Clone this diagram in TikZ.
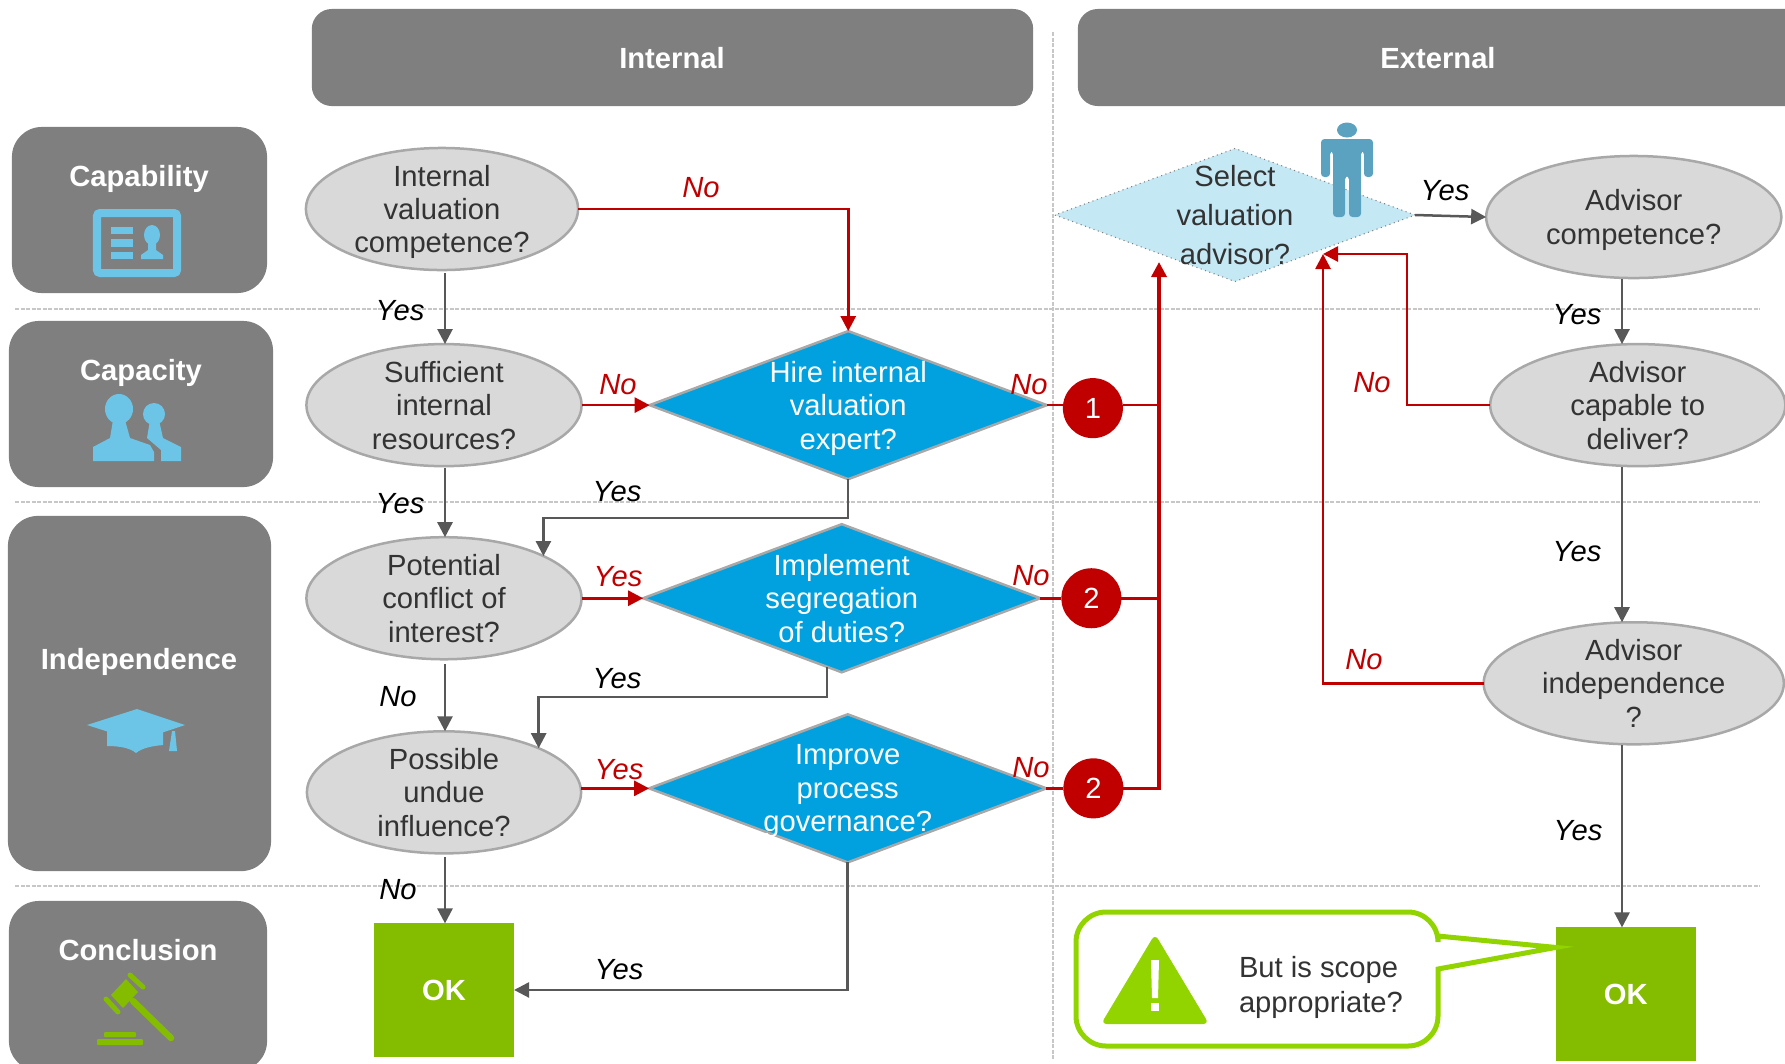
\documentclass[tikz,border=0pt]{standalone}
\usepackage{fontspec}
\setmainfont{Liberation Sans}
\usetikzlibrary{positioning,shapes.geometric,arrows.meta}

\definecolor{headgray}{HTML}{7F7F7F}
\definecolor{ellfill}{HTML}{D9D9D9}
\definecolor{ellline}{HTML}{A8A8A8}
\definecolor{dmdblue}{HTML}{00A1DE}
\definecolor{dmdpale}{HTML}{C5E8F5}
\definecolor{iconblue}{HTML}{6CC4E6}
\definecolor{manblue}{HTML}{5AA2BF}
\definecolor{redline}{HTML}{C00000}
\definecolor{grayline}{HTML}{585858}
\definecolor{okgreen}{HTML}{84BC00}
\definecolor{warngreen}{HTML}{92D400}
\definecolor{inktext}{HTML}{333333}

\tikzset{
	every node/.style={outer sep=0pt},
	bodyfont/.style={font=\fontsize{8.3}{9.5}\selectfont},
	headbox/.style={rectangle, rounded corners=0.2cm, fill=headgray, inner sep=0pt},
	sidebox/.style={rectangle, rounded corners=0.3cm, fill=headgray, inner sep=0pt},
	headtext/.style={font=\fontsize{8.3}{9.5}\selectfont\bfseries, text=white, text height=0.25cm, text depth=0.044cm},
	ellq/.style={ellipse, bodyfont, align=center, text=inktext, text depth=0pt, fill=ellfill, draw=ellline, line width=0.025cm, minimum width=2.72cm, minimum height=1.22cm, inner xsep=-0.2cm, inner ysep=-0.3cm},
	dmdq/.style={diamond, bodyfont, align=center, text=white, text depth=0pt, fill=dmdblue, draw=ellline, line width=0.025cm, minimum width=3.97cm, minimum height=1.48cm, aspect=2.68, inner xsep=-0.5cm, inner ysep=-0.4cm},
	selq/.style={diamond, font=\fontsize{8.3}{11}\selectfont, align=center, text=inktext, text depth=0pt, fill=dmdpale, draw=gray, line width=0.3pt, densely dotted, minimum width=3.6cm, minimum height=1.33cm, aspect=2.7, inner xsep=-0.5cm, inner ysep=-0.5cm},
	okbox/.style={rectangle, headtext, fill=okgreen, minimum width=1.4cm, minimum height=1.33cm, inner sep=0pt},
	numdot/.style={circle, bodyfont, text=white, fill=redline, minimum size=0.6cm, inner sep=0pt},
	grayarr/.style={draw=grayline, line width=0.025cm, -{Triangle[length=0.15cm,width=0.15cm]}},
	redarr/.style={draw=redline, line width=0.027cm, -{Triangle[length=0.15cm,width=0.15cm]}},
	redrun/.style={draw=redline, line width=0.027cm},
	ansblack/.style={bodyfont, font=\fontsize{8.3}{9.5}\selectfont\itshape, text=black, inner sep=0pt},
	ansred/.style={ansblack, text=redline},
	rowline/.style={draw=black!22, line width=0.014cm, dash pattern=on 0.04cm off 0.015cm}
}

\begin{document}
\begin{tikzpicture}[x=0.01cm, y=-0.01cm]

	\path[use as bounding box, clip] (0,0) rectangle (1785,1063);

	\coordinate (rowa) at (15,309);
	\coordinate (rowb) at (15,502);
	\coordinate (rowc) at (15,886);
	\coordinate (rowend) at (1760,0);
	\coordinate (midtop) at (1053,32);
	\coordinate (midend) at (1053,1060);

	\draw[rowline] (rowa) -- (rowa -| rowend);
	\draw[rowline] (rowb) -- (rowb -| rowend);
	\draw[rowline] (rowc) -- (rowc -| rowend);
	\draw[rowline] (midtop) -- (midend);

	\node[headbox, minimum width=7.21cm, minimum height=0.97cm] (inthead) at (672.5,57.5) {};
	\node[headbox, minimum width=7.3cm, minimum height=0.97cm] (exthead) at (1443,57.5) {};
	\node[headtext] (inttext) at (672,58) {Internal};
	\node[headtext] (exttext) at (1438,58) {External};

	\node[sidebox, minimum width=2.55cm, minimum height=1.66cm] (capabox) at (139.5,210) {};
	\node[sidebox, minimum width=2.64cm, minimum height=1.66cm] (cacibox) at (141,404) {};
	\node[sidebox, minimum width=2.63cm, minimum height=3.55cm] (indebox) at (139.5,693.5) {};
	\node[sidebox, minimum width=2.58cm, minimum height=1.7cm] (concbox) at (138,986) {};
	\node[headtext] (capatext) at (139,176) {Capability};
	\node[headtext] (cacitext) at (141,370) {Capacity};
	\node[headtext] (indetext) at (139,659) {Independence};
	\node[headtext] (conctext) at (138,950) {Conclusion};

	\node[ellq] (compq) at (442,209) {Internal\\valuation\\competence?};
	\node[ellq, below=0.74cm of compq, xshift=0.02cm, minimum width=2.75cm] (resq) {Sufficient\\internal\\resources?};
	\node[ellq, below=0.71cm of resq, minimum width=2.75cm] (confq) {Potential\\conflict of\\interest?};
	\node[ellq, below=0.72cm of confq, minimum width=2.74cm] (undueq) {Possible\\undue\\influence?};
	\node[okbox, below=0.7cm of undueq] (okint) {OK};

	\node[dmdq, right=0.68cm of resq] (hireq) {Hire internal\\valuation\\expert?};
	\node[dmdq, right=0.615cm of confq] (segq) {Implement\\segregation\\of duties?};
	\node[dmdq, right=0.68cm of undueq, yshift=0.04cm] (govq) {Improve\\process\\governance?};

	\node[numdot, right=0.16cm of hireq, yshift=-0.03cm] (numa) {1};
	\node[numdot, right=0.21cm of segq] (numb) {2};
	\node[numdot, right=0.17cm of govq] (numc) {2};

	\node[selq] (selq) at (1235,215) {Select\\valuation\\advisor?};
	\node[ellq, right=0.71cm of selq, yshift=-0.02cm, minimum width=2.95cm] (advcomp) {Advisor\\competence?};
	\node[ellq, below=0.66cm of advcomp, xshift=0.04cm, minimum width=2.95cm] (advdel) {Advisor\\capable to\\deliver?};
	\node[ellq, below=1.56cm of advdel, xshift=-0.04cm, minimum width=3cm] (advind) {Advisor\\independence\\?};
	\node[okbox, below=1.83cm of advind, xshift=-0.08cm] (okext) {OK};

	\coordinate (axl) at (445,0);
	\coordinate (axr) at (1622,0);
	\coordinate (bus) at (1159,262);
	\coordinate (tipr) at (1323,254);

	\draw[grayarr, shorten <=0.03cm] (axl |- compq.south) -- (axl |- resq.north);
	\draw[grayarr, shorten <=0.02cm] (axl |- resq.south) -- (axl |- confq.north);
	\draw[grayarr, shorten <=0.05cm] (axl |- confq.south) -- (axl |- undueq.north);
	\draw[grayarr, shorten <=0.04cm] (axl |- undueq.south) -- (axl |- okint.north);
	\draw[grayarr] (hireq.south) |- ([yshift=0.38cm]confq.23) -- (confq.23);
	\draw[grayarr] (segq.-102) |- ([yshift=0.51cm]undueq.25) -- (undueq.25);
	\draw[grayarr] (govq.south) |- (okint.east);

	\draw[redarr] (compq.east) -| (hireq.north);
	\draw[redarr] (resq.east) -- (hireq.west);
	\draw[redarr] (confq.east) -- (segq.west);
	\draw[redarr] (undueq.east |- govq.west) -- (govq.west);

	\draw[redrun] (hireq.east) -- (hireq.east -| numa.west);
	\draw[redrun] (segq.east) -- (segq.east -| numb.west);
	\draw[redrun] (govq.east) -- (govq.east -| numc.west);
	\draw[redrun] (hireq.east -| numa.east) -- (hireq.east -| bus);
	\draw[redrun] (segq.east -| numb.east) -- (segq.east -| bus);
	\draw[redarr, line width=0.035cm] (govq.east -| numc.east) -| (bus);

	\draw[grayarr] (selq.east) -- (advcomp.west);
	\draw[grayarr, shorten <=0.01cm] (axr |- advcomp.south) -- (axr |- advdel.north);
	\draw[grayarr, shorten <=0.01cm] (axr |- advdel.south) -- (axr |- advind.north);
	\draw[grayarr, shorten <=0.01cm] (axr |- advind.south) -- (axr |- okext.north);

	\draw[redarr] (advdel.west) -| ([xshift=0.84cm]tipr) -- (tipr);
	\draw[redarr] (advind.west) -| (tipr);

	\node[ansblack] (ansa) at (400,311) {Yes};
	\node[ansblack] (ansb) at (400,504) {Yes};
	\node[ansblack] (ansc) at (398,697) {No};
	\node[ansblack] (ansd) at (398,890) {No};
	\node[ansblack] (anse) at (617,492) {Yes};
	\node[ansblack] (ansf) at (617,679) {Yes};
	\node[ansblack] (ansg) at (619,970) {Yes};
	\node[ansblack] (ansh) at (1445,191) {Yes};
	\node[ansblack] (ansi) at (1577,315) {Yes};
	\node[ansblack] (ansj) at (1577,552) {Yes};
	\node[ansblack] (ansk) at (1578,831) {Yes};

	\node[ansred] (nota) at (701,188) {No};
	\node[ansred] (notb) at (618,385) {No};
	\node[ansred] (notc) at (618,577) {Yes};
	\node[ansred] (notd) at (619,770) {Yes};
	\node[ansred] (note) at (1029,385) {No};
	\node[ansred] (notf) at (1031,576) {No};
	\node[ansred] (notg) at (1031,768) {No};
	\node[ansred] (noth) at (1372,383) {No};
	\node[ansred] (noti) at (1364,660) {No};

	\draw[iconblue, line width=0.08cm, rounded corners=0.03cm] (97,213) rectangle (177,273);
	\fill[iconblue] (111,227) rectangle (133,234);
	\fill[iconblue] (111,239) rectangle (133,247);
	\fill[iconblue] (111,252) rectangle (133,259);
	\fill[iconblue] (152,235) ellipse [x radius=0.08cm, y radius=0.1cm];
	\fill[iconblue] (141,259) -- (141,255) -- (148,250) -- (148,240) -- (156,240) -- (156,250) -- (163,255) -- (163,259) -- cycle;

	\fill[iconblue] (119,409) ellipse [x radius=0.14cm, y radius=0.15cm];
	\fill[iconblue] (93,461) -- (93,447) -- (110,438) -- (113,420) -- (125,420) -- (130,438) -- (150,445) -- (154,452) -- (154,461) -- cycle;
	\fill[iconblue] (154,414) ellipse [x radius=0.11cm, y radius=0.11cm];
	\fill[iconblue] (161,461) -- (161,450) -- (147,438) -- (150,420) -- (159,420) -- (163,438) -- (181,447) -- (181,461) -- cycle;

	\fill[iconblue] (87,725) -- (137,709) -- (185,725) -- (137,741) -- cycle;
	\fill[iconblue] (107,730) -- (107,746) .. controls (120,746) and (130,748) .. (136,753) .. controls (142,748) and (152,746) .. (163,745) -- (163,730) -- cycle;
	\fill[iconblue] (172,731) -- (175,731) -- (177,751) -- (169,751) -- cycle;

	\fill[okgreen] (111,995) -- (126,979) -- (138,992) -- (123,1008) -- cycle;
	\draw[okgreen, line width=0.05cm, line cap=round] (130,975) -- (143,987);
	\draw[okgreen, line width=0.05cm, line cap=round] (106,999) -- (118,1012);
	\draw[okgreen, line width=0.065cm, line cap=round] (133,1001) -- (171,1038);
	\fill[okgreen, rounded corners=0.01cm] (97,1039) rectangle (143,1045);
	\fill[okgreen, rounded corners=0.01cm] (104,1032) rectangle (136,1037);

	\fill[manblue] (1347,130) ellipse [x radius=0.1cm, y radius=0.075cm];
	\fill[manblue, rounded corners=0.035cm] (1321,177) -- (1321,139) -- (1373,139) -- (1373,177) -- (1364,177) -- (1364,151) -- (1361,151) -- (1361,217) -- (1349,217) -- (1349,176) -- (1345,176) -- (1345,217) -- (1333,217) -- (1333,151) -- (1330,151) -- (1330,177) -- cycle;

	\draw[warngreen, line width=0.05cm, fill=white] ([yshift=-0.2cm]okext.north west) -- (1438,936) [rounded corners=0.3cm] -- (1438,912) -- (1076,912) -- (1076,1046) -- (1438,1046) [sharp corners] -- (1438,969) -- cycle;
	\fill[warngreen, rounded corners=0.06cm] (1155,934) -- (1209,1024) -- (1101,1024) -- cycle;
	\fill[white] (1151,960) -- (1159,960) -- (1158,998) -- (1152,998) -- cycle;
	\fill[white] (1151,1003) rectangle (1159,1011);
	\node[font=\fontsize{8.3}{9.95}\selectfont, text=inktext, align=left, anchor=west, inner sep=0pt] (scopetext) at (1239,987) {But is scope\\appropriate?};

\end{tikzpicture}
\end{document}
